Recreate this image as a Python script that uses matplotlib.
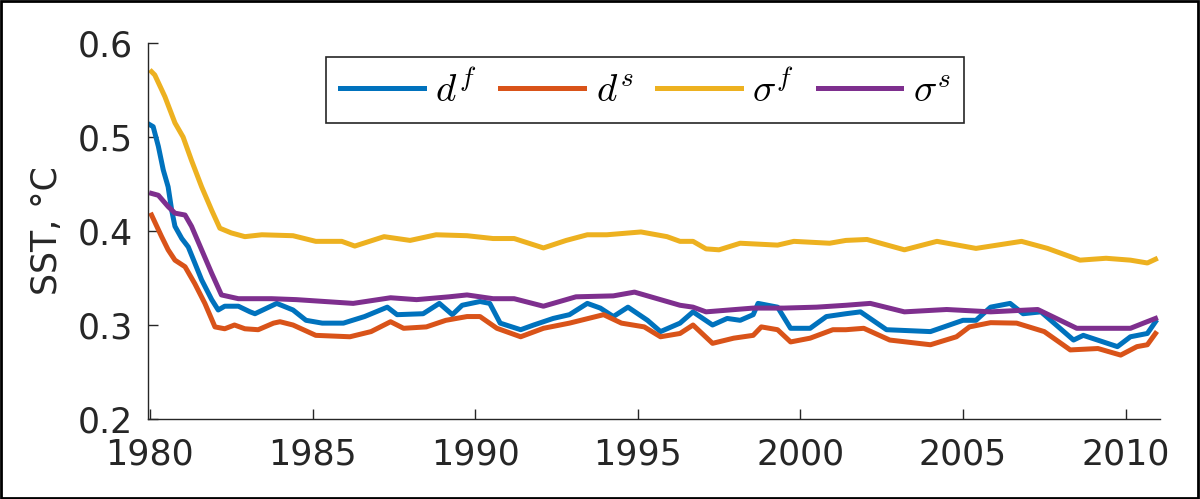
import matplotlib

matplotlib.use("Agg")
import matplotlib.pyplot as plt
from matplotlib.patches import Rectangle

# --- data (year, SST in deg C) ---
df_years = [1980.0, 1980.1, 1980.26, 1980.41, 1980.56, 1980.67, 1980.77, 1980.98,
            1981.18, 1981.38, 1981.59, 1981.9, 1982.1, 1982.3, 1982.72, 1983.08,
            1983.23, 1983.9, 1984.4, 1984.8, 1985.3, 1985.95, 1986.6, 1987.3,
            1987.6, 1988.4, 1988.9, 1989.3, 1989.6, 1990.15, 1990.45, 1990.77,
            1991.4, 1991.8, 1992.4, 1992.9, 1993.45, 1993.85, 1994.25, 1994.7,
            1995.3, 1995.7, 1996.3, 1996.7, 1997.3, 1997.75, 1998.15, 1998.55,
            1998.7, 1999.3, 1999.7, 2000.3, 2000.8, 2001.4, 2001.85, 2002.65,
            2004.0, 2005.0, 2005.4, 2005.85, 2006.45, 2006.85, 2007.4, 2008.4,
            2008.7, 2009.75, 2010.15, 2010.67, 2010.92]
df_vals = [0.513, 0.511, 0.490, 0.465, 0.447, 0.422, 0.405, 0.392,
           0.383, 0.366, 0.348, 0.327, 0.316, 0.320, 0.320, 0.314,
           0.312, 0.323, 0.316, 0.305, 0.302, 0.302, 0.309, 0.319,
           0.311, 0.312, 0.323, 0.311, 0.321, 0.325, 0.323, 0.302,
           0.295, 0.300, 0.307, 0.311, 0.323, 0.318, 0.309, 0.319,
           0.305, 0.293, 0.302, 0.314, 0.300, 0.307, 0.305, 0.311,
           0.323, 0.319, 0.2965, 0.2965, 0.309, 0.312, 0.314, 0.295,
           0.293, 0.305, 0.305, 0.319, 0.323, 0.312, 0.314, 0.284,
           0.289, 0.277, 0.2875, 0.291, 0.3035]

ds_years = [1980.05, 1980.36, 1980.56, 1980.77, 1981.08, 1981.38, 1981.69, 1982.0,
            1982.3, 1982.6, 1982.92, 1983.33, 1983.8, 1984.0, 1984.4, 1985.1,
            1986.15, 1986.8, 1987.4, 1987.8, 1988.5, 1989.1, 1989.75, 1990.15,
            1990.67, 1991.4, 1992.1, 1992.9, 1993.95, 1994.5, 1995.2, 1995.7,
            1996.3, 1996.7, 1997.3, 1997.95, 1998.55, 1998.8, 1999.3, 1999.7,
            2000.3, 2001.0, 2001.4, 2001.95, 2002.75, 2004.0, 2004.8, 2005.2,
            2005.85, 2006.65, 2007.5, 2008.3, 2009.15, 2009.85, 2010.35, 2010.67,
            2010.92]
ds_vals = [0.417, 0.394, 0.380, 0.369, 0.362, 0.344, 0.323, 0.298,
           0.296, 0.300, 0.296, 0.295, 0.302, 0.3035, 0.300, 0.289,
           0.2875, 0.293, 0.3035, 0.2965, 0.298, 0.305, 0.309, 0.309,
           0.2965, 0.2875, 0.2965, 0.302, 0.311, 0.302, 0.298, 0.2875,
           0.291, 0.300, 0.2805, 0.286, 0.289, 0.298, 0.295, 0.282,
           0.286, 0.295, 0.295, 0.2965, 0.284, 0.279, 0.2875, 0.298,
           0.3025, 0.302, 0.293, 0.2735, 0.275, 0.268, 0.277, 0.279,
           0.291]

sf_years = [1980.05, 1980.15, 1980.46, 1980.77, 1981.02, 1981.28, 1981.59, 1981.9,
            1982.15, 1982.5, 1982.92, 1983.44, 1984.4, 1985.1, 1985.9, 1986.3,
            1987.2, 1988.0, 1988.8, 1989.75, 1990.55, 1991.2, 1992.1, 1992.8,
            1993.45, 1994.05, 1995.1, 1995.9, 1996.3, 1996.7, 1997.1, 1997.5,
            1998.15, 1999.3, 1999.8, 2000.9, 2001.4, 2002.05, 2003.2, 2004.2,
            2005.4, 2006.8, 2007.6, 2008.6, 2009.4, 2010.15, 2010.67, 2010.92]
sf_vals = [0.5695, 0.566, 0.543, 0.515, 0.500, 0.475, 0.447, 0.422,
           0.403, 0.398, 0.394, 0.396, 0.395, 0.389, 0.389, 0.384,
           0.394, 0.390, 0.396, 0.395, 0.392, 0.392, 0.382, 0.390,
           0.396, 0.396, 0.399, 0.394, 0.389, 0.389, 0.381, 0.380,
           0.387, 0.385, 0.389, 0.387, 0.390, 0.391, 0.380, 0.389,
           0.3815, 0.389, 0.3815, 0.369, 0.371, 0.369, 0.366, 0.370]

ss_years = [1980.05, 1980.26, 1980.56, 1980.77, 1981.08, 1981.28, 1981.59, 1981.9,
            1982.2, 1982.72, 1983.74, 1984.5, 1986.25, 1987.4, 1988.2, 1989.2,
            1989.75, 1990.55, 1991.2, 1992.1, 1993.1, 1994.25, 1994.9, 1995.7,
            1996.3, 1996.7, 1997.1, 1998.55, 1999.5, 2000.5, 2001.4, 2002.15,
            2003.2, 2004.5, 2005.85, 2007.3, 2008.5, 2010.15, 2010.55, 2010.92]
ss_vals = [0.440, 0.438, 0.426, 0.419, 0.417, 0.405, 0.380, 0.355,
           0.332, 0.328, 0.328, 0.327, 0.323, 0.329, 0.327, 0.330,
           0.332, 0.328, 0.328, 0.320, 0.330, 0.331, 0.335, 0.327,
           0.321, 0.319, 0.314, 0.318, 0.318, 0.319, 0.321, 0.323,
           0.314, 0.3165, 0.314, 0.3165, 0.2965, 0.2965, 0.302, 0.307]

labels = [r"$d^f$", r"$d^s$", r"$\sigma^f$", r"$\sigma^s$"]
colors = ["#0072BD", "#D95319", "#EDB120", "#7E2F8E"]
x_ticks = [1980, 1985, 1990, 1995, 2000, 2005, 2010]
y_ticks = [0.2, 0.3, 0.4, 0.5, 0.6]

plt.rcParams["font.family"] = ["DejaVu Sans"]
plt.rcParams["mathtext.fontset"] = "cm"
axis_col = "#262626"

fig = plt.figure(figsize=(12, 4.99), dpi=100)
ax = fig.add_axes([0.1233, 0.1603, 0.8434, 0.7535])

series = [(df_years, df_vals), (ds_years, ds_vals),
          (sf_years, sf_vals), (ss_years, ss_vals)]
for (xs, ys), lab, col in zip(series, labels, colors):
    ax.plot(xs, ys, color=col, lw=3.6, label=lab)

ax.set_xlim(1979.94, 2011.06)
ax.set_ylim(0.2, 0.6)
ax.set_xticks(x_ticks)
ax.set_yticks(y_ticks)
ax.set_yticklabels([f"{v:.1f}" for v in y_ticks])
ax.tick_params(direction="in", length=7, width=1, colors=axis_col,
               labelsize=25)
ax.tick_params(axis="y", pad=11)
ax.tick_params(axis="x", pad=13)
for side in ("top", "right"):
    ax.spines[side].set_visible(False)
for side in ("left", "bottom"):
    ax.spines[side].set_color(axis_col)
    ax.spines[side].set_linewidth(1)
ax.set_ylabel("SST, °C", fontsize=25, color=axis_col, labelpad=10)

leg = ax.legend(ncol=4, loc="upper left", bbox_to_anchor=(0.272, 0.886),
                bbox_transform=fig.transFigure, borderaxespad=0,
                fancybox=False, edgecolor=axis_col, fontsize=28,
                handlelength=2.15, columnspacing=0.6, handletextpad=0.3,
                borderpad=0.35, framealpha=1)
leg.get_frame().set_linewidth(1.2)

fig.patches.append(Rectangle((0.001, 0.002), 0.997, 0.996, transform=fig.transFigure,
                             fill=False, edgecolor="black", lw=2))

fig.savefig("out.png", dpi=100)
